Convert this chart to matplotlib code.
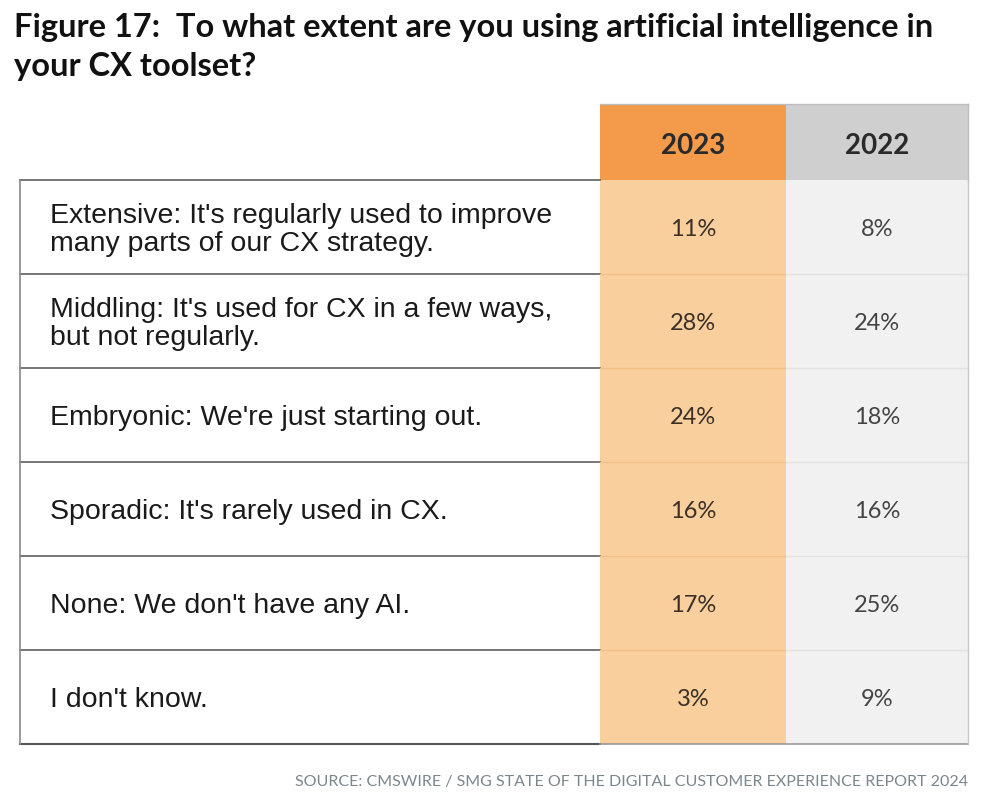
import matplotlib
matplotlib.use("Agg")
import matplotlib.pyplot as plt
from matplotlib.patches import Rectangle

# data
answers = [
    "Extensive: It's regularly used to improve\nmany parts of our CX strategy.",
    "Middling: It's used for CX in a few ways,\nbut not regularly.",
    "Embryonic: We're just starting out.",
    "Sporadic: It's rarely used in CX.",
    "None: We don't have any AI.",
    "I don't know.",
]
years = ["2023", "2022"]
pct_2023 = [11, 28, 24, 16, 17, 3]
pct_2022 = [8, 24, 18, 16, 25, 9]

title_lines = ["Figure 17:  To what extent are you using artificial intelligence in",
               "your CX toolset?"]
source = "SOURCE: CMSWIRE / SMG STATE OF THE DIGITAL CUSTOMER EXPERIENCE REPORT 2024"

head_cols = ["#F39A4B", "#CFCFCF"]
body_cols = ["#F9CF9D", "#F1F1F1"]

W, H = 982, 802
fig = plt.figure(figsize=(W / 100, H / 100), dpi=100)
ax = fig.add_axes([0, 0, 1, 1])
ax.set_xlim(0, W)
ax.set_ylim(H, 0)
ax.axis("off")

# table geometry (pixels)
x_left, x_split = 20, 600
col_w = [186, 182]
y_head, y_top, row_h = 104, 180, 94.0

for k, line in enumerate(title_lines):
    ax.text(14, 37 + k * 39, line, ha="left", va="baseline", fontsize=23.5,
            fontweight="bold", family="Lato", color="#111111")

# header cells
x = x_split
for yr, c, w in zip(years, head_cols, col_w):
    ax.add_patch(Rectangle((x, y_head), w, y_top - y_head, facecolor=c, edgecolor="none"))
    ax.text(x + w / 2, (y_head + y_top) / 2 + 4, yr, ha="center", va="center",
            fontsize=20, fontweight="bold", family="Lato", color="#2a2a2a")
    x += w
ax.plot([x_split + col_w[0] + col_w[1]] * 2, [y_head, y_top], color="#bdbdbd", lw=1)
ax.plot([x_split, x_split + col_w[0] + col_w[1]], [y_head, y_head], color="#bdbdbd", lw=1)

n = len(answers)
y_bot = y_top + n * row_h
# body column fills
x = x_split
for c, w in zip(body_cols, col_w):
    ax.add_patch(Rectangle((x, y_top), w, y_bot - y_top, facecolor=c, edgecolor="none"))
    x += w
x_right = x

for i, (lab, a, b) in enumerate(zip(answers, pct_2023, pct_2022)):
    y0 = y_top + i * row_h
    yc = y0 + row_h / 2
    ax.text(x_left + 30, yc + 3, lab, ha="left", va="center", fontsize=20.5,
            family="Liberation Sans", color="#1a1a1a", linespacing=1.12)
    ax.text(x_split + col_w[0] / 2, yc + 2, f"{a}%", ha="center", va="center",
            fontsize=17, family="Lato", color="#3a3027")
    ax.text(x_split + col_w[0] + col_w[1] / 2, yc + 2, f"{b}%", ha="center", va="center",
            fontsize=17, family="Lato", color="#444444")
    # row separators
    ax.plot([x_left, x_split], [y0, y0], color="#6b6b6b", lw=1.3)
    if i > 0:
        ax.plot([x_split, x_split + col_w[0]], [y0, y0], color="#f0c08a", lw=1)
        ax.plot([x_split + col_w[0], x_right], [y0, y0], color="#e2e2e2", lw=1)

ax.plot([x_left, x_split], [y_bot, y_bot], color="#555555", lw=1.5)
ax.plot([x_split, x_right], [y_bot, y_bot], color="#9a9a9a", lw=1.2)
ax.plot([x_left, x_left], [y_top, y_bot], color="#8a8a8a", lw=1.2)
ax.plot([x_right, x_right], [y_top, y_bot], color="#c8c8c8", lw=1)

ax.text(968, 782, source, ha="right", va="center", fontsize=11.5,
        family="Lato", color="#7b868c")

fig.savefig("out.png", dpi=100, facecolor="white")
